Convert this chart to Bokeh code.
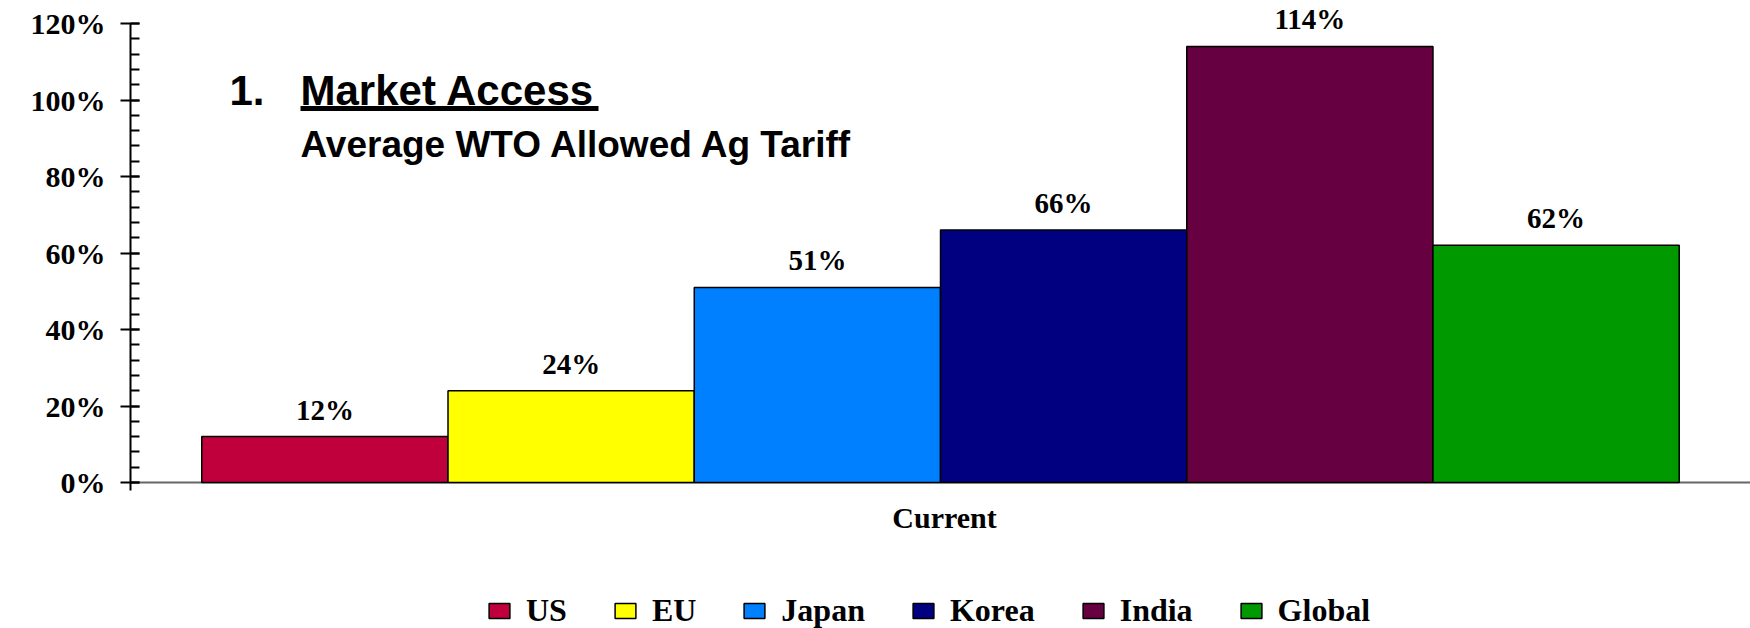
from bokeh.plotting import figure
from bokeh.models import (FactorRange, Range1d, ColumnDataSource, Label, BoxAnnotation,
                          Legend, LegendItem, SingleIntervalTicker, NumeralTickFormatter, Span)
from bokeh.transform import dodge
from bokeh.embed import file_html
from bokeh.resources import INLINE
from bokeh.core.properties import value

# ---- data ----
category = ["Current"]
countries = ["US", "EU", "Japan", "Korea", "India", "Global"]
tariffs = [0.12, 0.24, 0.51, 0.66, 1.14, 0.62]
value_labels = ["12%", "24%", "51%", "66%", "114%", "62%"]
colors = ["#C0003C", "#FFFF00", "#0080FF", "#000080", "#660040", "#009900"]
title_number = "1."
title_text = "Market Access"
subtitle_text = "Average WTO Allowed Ag Tariff"

SERIF = "Liberation Serif"
SANS = "Liberation Sans"

W, H = 1750, 628
LEFT = 130          # frame left edge (px)
BASE = 482          # y pixel of the 0% baseline
PX_PER_UNIT = 382.5 # pixels per 100%

p = figure(width=W, height=H,
           x_range=FactorRange(factors=category),
           y_range=Range1d(-(H - BASE) / PX_PER_UNIT, BASE / PX_PER_UNIT),
           x_axis_location=None,
           output_backend="svg", toolbar_location=None,
           min_border_left=LEFT, min_border_right=0, min_border_top=0, min_border_bottom=0)
p.xgrid.visible = False
p.ygrid.visible = False
p.outline_line_color = None
p.background_fill_color = "white"
p.border_fill_color = "white"

# baseline (category axis line)
p.add_layout(Span(location=0, dimension="width", line_color="#666666", line_width=2,
                  level="underlay"))

bar_w = 0.152
items = []
for i, (c, v, lab, col) in enumerate(zip(countries, tariffs, value_labels, colors)):
    src = ColumnDataSource(dict(x=category, top=[v], label=[lab]))
    off = (i - (len(countries) - 1) / 2) * bar_w
    r = p.vbar(x=dodge("x", off, range=p.x_range), top="top", bottom=0, width=bar_w,
               fill_color=col, line_color="black", line_width=1.5, source=src)
    p.text(x=dodge("x", off, range=p.x_range), y="top", text="label", source=src,
           text_align="center", text_baseline="alphabetic", y_offset=-27,
           text_font=value(SERIF), text_font_style="bold", text_font_size="29px",
           text_color="black")
    items.append(LegendItem(label=c, renderers=[r]))

# category label under the baseline
p.text(x=category, y=[0] * len(category), text=category, text_align="center",
       text_baseline="alphabetic", y_offset=35, x_offset=4,
       text_font=value(SERIF), text_font_style="bold", text_font_size="30px",
       text_color="black")

# y axis
ya = p.yaxis[0]
ya.ticker = SingleIntervalTicker(interval=0.2, num_minor_ticks=5)
ya.formatter = NumeralTickFormatter(format="0%")
ya.bounds = (-0.021, 1.2001)
ya.major_tick_in = 9
ya.major_tick_out = 10
ya.minor_tick_in = 9
ya.minor_tick_out = 0
ya.axis_line_width = 2
ya.major_tick_line_width = 2
ya.minor_tick_line_width = 2
ya.axis_line_color = "black"
ya.major_tick_line_color = "black"
ya.minor_tick_line_color = "black"
ya.major_label_standoff = 15
ya.major_label_text_font = SERIF
ya.major_label_text_font_style = "bold"
ya.major_label_text_font_size = "30px"
ya.major_label_text_color = "black"

# title block (screen units, measured from the frame's bottom-left)
LABEL_FIX = 13
p.add_layout(Label(x=99, y=H - 102.5 + LABEL_FIX, x_units="screen", y_units="screen",
                   text=title_number, text_font=SANS, text_font_style="bold",
                   text_font_size="42px", text_color="black", text_baseline="alphabetic"))
p.add_layout(Label(x=170, y=H - 102.5 + LABEL_FIX, x_units="screen", y_units="screen",
                   text=title_text, text_font=SANS, text_font_style="bold",
                   text_font_size="42px", text_color="black", text_baseline="alphabetic"))
p.add_layout(BoxAnnotation(left=170, right=468, top=H - 105.5, bottom=H - 110.5,
                           left_units="screen", right_units="screen",
                           top_units="screen", bottom_units="screen",
                           fill_color="black", fill_alpha=1, line_color=None))
p.add_layout(Label(x=170, y=H - 154.5 + 11, x_units="screen", y_units="screen",
                   text=subtitle_text, text_font=SANS, text_font_style="bold",
                   text_font_size="37px", text_color="black", text_baseline="alphabetic"))

legend = Legend(items=items, orientation="horizontal", location=(356, -1),
                glyph_width=26, glyph_height=19, label_standoff=14, spacing=45,
                padding=0, margin=0, border_line_color=None, background_fill_alpha=0,
                label_text_font=SERIF, label_text_font_style="bold",
                label_text_font_size="32px", label_text_color="black")
p.add_layout(legend)

open("out.html", "w").write(file_html(p, INLINE))
